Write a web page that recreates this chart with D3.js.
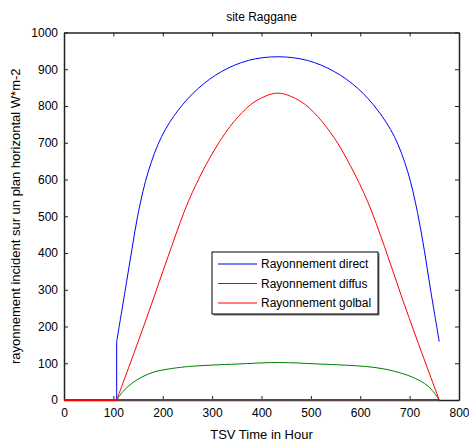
<!DOCTYPE html>
<html lang="en">
<head>
    <meta charset="UTF-8">
    <title>site Raggane</title>
    <script src="https://d3js.org/d3.v7.min.js"></script>
    <style>
        body { margin: 0; background: #fff; }
        svg { font-family: "Liberation Sans", Arial, sans-serif; }
    </style>
</head>
<body>
    <div id="chart"></div>

    <script>
        // values (TSV time, W/m2)
        const sunrise = 106.7;
        const sunset = 760;

        const directT = [106.7, 123.5, 137, 150.5, 170.8, 197.8, 231.5, 272, 319.4, 373.3, 433, 493, 547, 595, 635, 669, 696, 716, 730, 743, 760];
        const directV = [159, 295, 405, 510, 622, 717, 789, 848, 894, 924, 934, 924, 894, 848, 789, 717, 622, 510, 405, 295, 159];

        const diffusT = [106.7, 120, 137, 160, 184.3, 220, 251.8, 300, 353, 434, 515, 567, 613, 650, 683, 706, 730, 746, 760];
        const diffusV = [0, 24, 45, 64, 77, 86, 91, 95, 98, 102, 98, 95, 91, 84, 73, 62, 45, 26, 0];

        const globalT = [106.7, 150.5, 184.3, 218, 251.8, 285.6, 319.4, 353, 386.8, 433, 480, 514, 548, 581, 615, 649, 682, 716, 760];
        const globalV = [0, 160, 288, 418, 540, 635, 712, 771, 812, 835, 812, 771, 712, 635, 540, 418, 288, 160, 0];

        const xTicks = [0, 100, 200, 300, 400, 500, 600, 700, 800];
        const yTicks = [0, 100, 200, 300, 400, 500, 600, 700, 800, 900, 1000];

        const legendLabels = ["Rayonnement direct", "Rayonnement diffus", "Rayonnement golbal"];
        const colors = ["#0000ff", "#008000", "#ff0000"];

        const W = 469, H = 444;
        const margin = { top: 32.5, right: 10, bottom: 44, left: 64 };
        const width = W - margin.left - margin.right;
        const height = H - margin.top - margin.bottom;

        const svg = d3.select("#chart").append("svg")
            .attr("width", W)
            .attr("height", H);

        const g = svg.append("g")
            .attr("transform", `translate(${margin.left},${margin.top})`);

        const x = d3.scaleLinear().domain([0, 800]).range([0, width]);
        const y = d3.scaleLinear().domain([0, 1000]).range([height, 0]);

        // axes, MATLAB style: ticks inward on all four sides
        const axBottom = g.append("g")
            .attr("transform", `translate(0,${height})`)
            .call(d3.axisBottom(x).tickValues(xTicks).tickFormat(d3.format("d")).tickSizeInner(-4).tickSizeOuter(0).tickPadding(8));
        const axLeft = g.append("g")
            .call(d3.axisLeft(y).tickValues(yTicks).tickFormat(d3.format("d")).tickSizeInner(-4).tickSizeOuter(0).tickPadding(6));
        const axTop = g.append("g")
            .call(d3.axisTop(x).tickValues(xTicks).tickSizeInner(-4).tickSizeOuter(0).tickFormat(""));
        const axRight = g.append("g")
            .attr("transform", `translate(${width},0)`)
            .call(d3.axisRight(y).tickValues(yTicks).tickSizeInner(-4).tickSizeOuter(0).tickFormat(""));

        [axBottom, axLeft, axTop, axRight].forEach(a => {
            a.selectAll("path").attr("stroke", "#222").attr("stroke-width", 1.5);
            a.selectAll("line").attr("stroke", "#222");
            a.selectAll("text").attr("fill", "#000").style("font-size", "12px")
             .style("font-family", "'Liberation Sans', Arial, sans-serif");
        });

        const line = d3.line().x(d => x(d[0])).y(d => y(d[1]));
        const smooth = d3.line().x(d => x(d[0])).y(d => y(d[1])).curve(d3.curveCatmullRom.alpha(0.5));

        // daylight baseline sits on the x axis
        g.append("path")
         .datum([[sunrise, 0], [sunset, 0]])
         .attr("fill", "none")
         .attr("stroke", "#5a4848")
         .attr("stroke-width", 2)
         .attr("d", line);

        const series = [
            [directT, directV],
            [diffusT, diffusV],
            [globalT, globalV]
        ];

        series.forEach(([ts, vs], i) => {
            const pts = ts.map((t, k) => [t, vs[k]]);
            g.append("path")
             .datum([[0, 0], [sunrise, 0], pts[0]])
             .attr("fill", "none")
             .attr("stroke", colors[i])
             .attr("stroke-width", i === 2 ? 2 : 1)
             .attr("d", line);
            g.append("path")
             .datum(pts)
             .attr("fill", "none")
             .attr("stroke", colors[i])
             .attr("stroke-width", 1)
             .attr("d", smooth);
        });

        // legend
        const lg = svg.append("g").attr("transform", "translate(212,252)");
        lg.append("rect")
          .attr("x", 1.5).attr("y", 1.5)
          .attr("width", 166).attr("height", 62)
          .attr("fill", "#777");
        lg.append("rect")
          .attr("width", 166).attr("height", 62)
          .attr("fill", "#fff")
          .attr("stroke", "#000");
        legendLabels.forEach((label, i) => {
            const yy = 12 + i * 19.5;
            lg.append("line")
              .attr("x1", 6).attr("x2", 45)
              .attr("y1", yy).attr("y2", yy)
              .attr("stroke", colors[i]);
            lg.append("text")
              .attr("x", 49).attr("y", yy + 4)
              .style("font-size", "12px")
              .text(label);
        });

        // titles
        svg.append("text")
           .attr("x", margin.left + width / 2).attr("y", 21)
           .attr("text-anchor", "middle")
           .style("font-size", "12px")
           .text("site Raggane");

        svg.append("text")
           .attr("x", margin.left + width / 2).attr("y", 439)
           .attr("text-anchor", "middle")
           .style("font-size", "13px")
           .text("TSV Time in Hour");

        svg.append("text")
           .attr("transform", `translate(20,${margin.top + height / 2}) rotate(-90)`)
           .attr("text-anchor", "middle")
           .style("font-size", "13px")
           .text("rayonnement incident sur un plan horizontal W*m-2");
    </script>
</body>
</html>
